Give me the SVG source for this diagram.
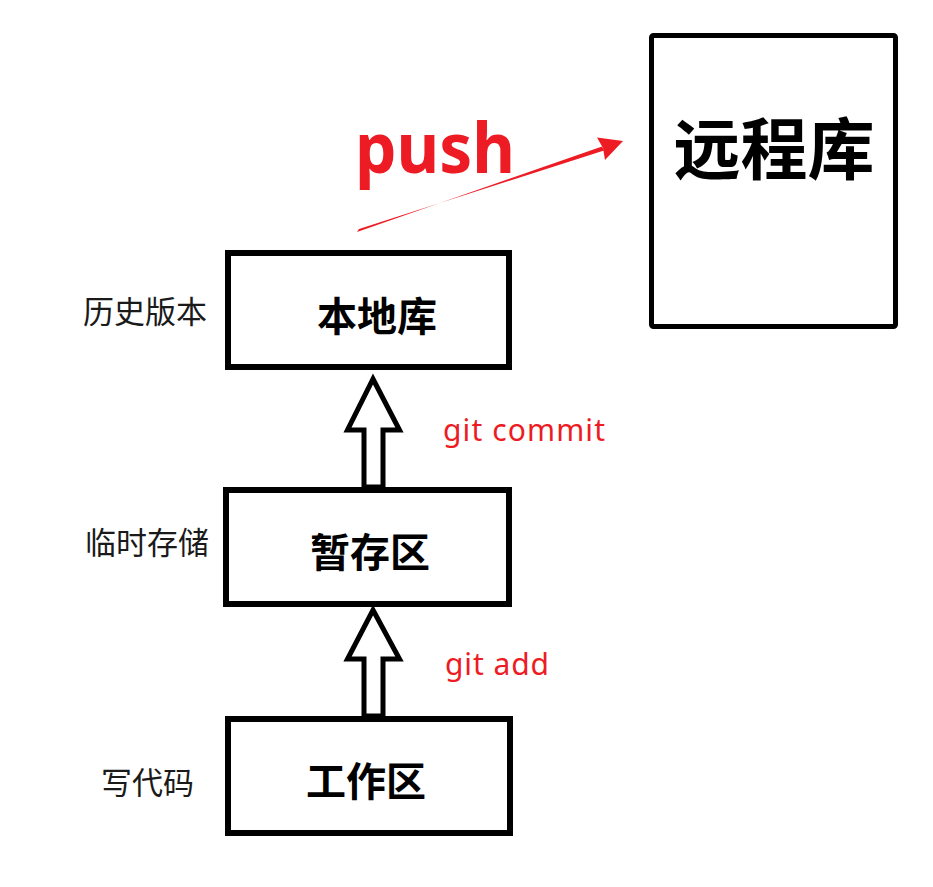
<svg xmlns="http://www.w3.org/2000/svg" width="933" height="887" viewBox="0 0 933 887">
<style>
.box{fill:#fff;stroke:#000;stroke-width:6}
.blk{fill:#fff;stroke:#000;stroke-width:5;stroke-linejoin:miter}
.red{fill:#ED1C24}
.title{font-family:"Noto Sans CJK SC","Noto Sans",sans-serif;font-weight:bold;fill:#000;text-anchor:middle}
.side{font-family:"Noto Sans CJK SC","Noto Sans",sans-serif;font-size:31px;fill:#1a1a1a}
.cmd{font-family:"Noto Sans","Open Sans",sans-serif;font-size:30px;fill:#ED1C24}
.push{font-family:"Noto Sans","Open Sans",sans-serif;font-size:70px;font-weight:bold;fill:#ED1C24}
</style>
<rect width="933" height="887" fill="#fff"/>
<g id="connectors">
  <polygon class="red" points="357,232 602,146.5 604,150.5 359,229"/>
  <polygon class="red" points="623,141 597,137.5 603,148 605,160"/>
  <polygon class="blk" points="373,379 399.5,430 383,430 383,487 364,487 364,430 347.5,430"/>
  <polygon class="blk" points="373,610 399.5,659 383,659 383,716 364,716 364,659 347.5,659"/>
  <text class="push" x="355" y="173" textLength="160" lengthAdjust="spacingAndGlyphs">push</text>
  <text class="cmd" x="443" y="441" textLength="162" lengthAdjust="spacing">git commit</text>
  <text class="cmd" x="445" y="675" textLength="104" lengthAdjust="spacing">git add</text>
</g>
<g id="remote">
  <rect class="box" x="651.5" y="35.5" width="244" height="291" rx="2" style="stroke-width:5"/>
  <text class="title" x="774" y="174" font-size="67">远程库</text>
</g>
<g id="local">
  <rect class="box" x="228" y="253" width="281" height="114"/>
  <text class="title" x="377" y="331" font-size="40">本地库</text>
  <text class="side" x="83" y="323">历史版本</text>
</g>
<g id="staging">
  <rect class="box" x="226" y="490" width="283" height="114"/>
  <text class="title" x="370" y="567" font-size="40">暂存区</text>
  <text class="side" x="85" y="554">临时存储</text>
</g>
<g id="working">
  <rect class="box" x="228" y="719" width="282" height="114"/>
  <text class="title" x="366" y="796" font-size="40">工作区</text>
  <text class="side" x="101" y="794">写代码</text>
</g>
</svg>
